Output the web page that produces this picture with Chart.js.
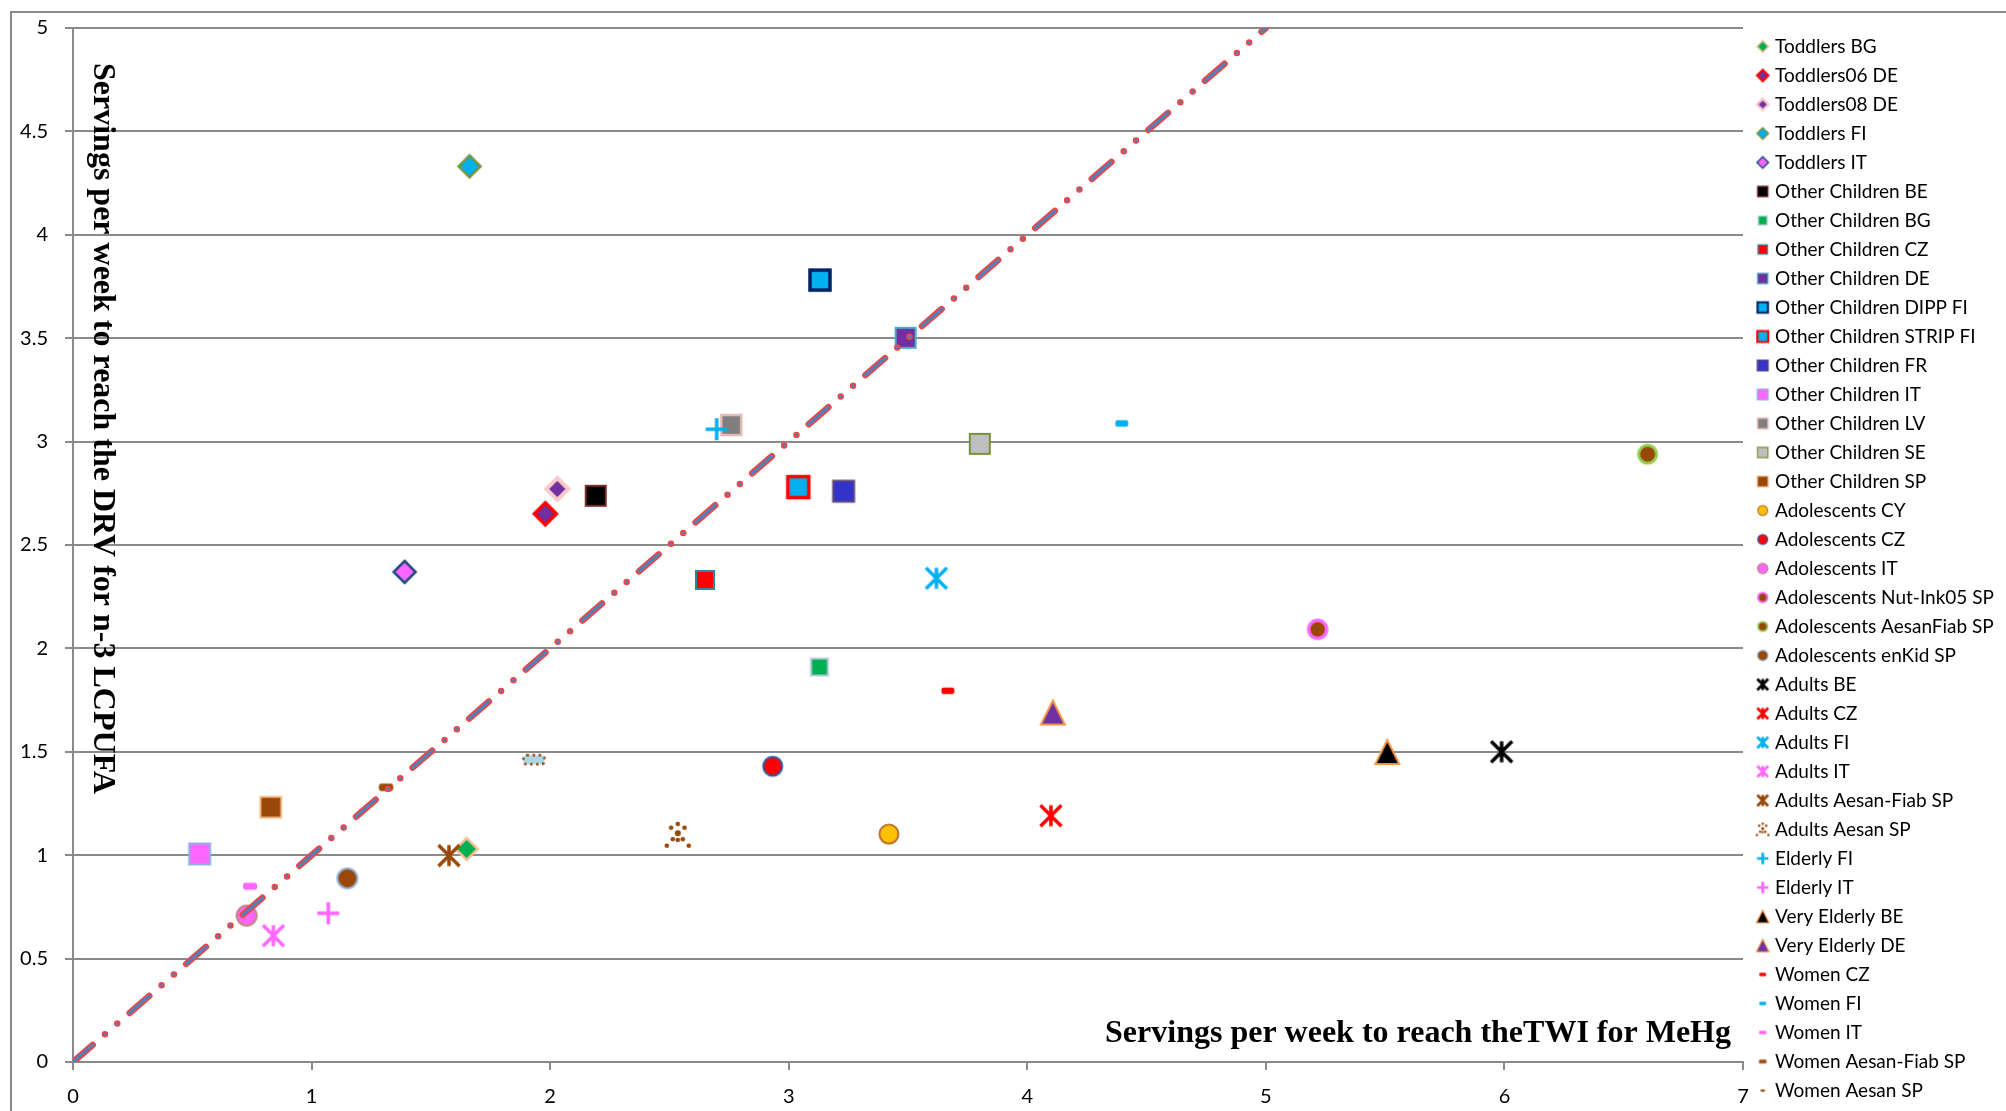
<!DOCTYPE html>
<html>
<head>
<meta charset="utf-8">
<script src="https://cdn.jsdelivr.net/npm/chart.js@4/dist/chart.umd.min.js"></script>
<style>
  html, body { margin: 0; padding: 0; background: #ffffff; }
  canvas { display: block; }
</style>
</head>
<body>
<canvas id="chart" width="2006" height="1111"></canvas>
<script>
// ---- data -------------------------------------------------------------
const seriesNames = [
  'Toddlers BG', 'Toddlers06 DE', 'Toddlers08 DE', 'Toddlers FI', 'Toddlers IT',
  'Other Children BE', 'Other Children BG', 'Other Children CZ', 'Other Children DE',
  'Other Children DIPP FI', 'Other Children STRIP FI', 'Other Children FR',
  'Other Children IT', 'Other Children LV', 'Other Children SE', 'Other Children SP',
  'Adolescents CY', 'Adolescents CZ', 'Adolescents IT', 'Adolescents Nut-Ink05 SP',
  'Adolescents AesanFiab SP', 'Adolescents enKid SP',
  'Adults BE', 'Adults CZ', 'Adults FI', 'Adults IT', 'Adults Aesan-Fiab SP', 'Adults Aesan SP',
  'Elderly FI', 'Elderly IT', 'Very Elderly BE', 'Very Elderly DE',
  'Women CZ', 'Women FI', 'Women IT', 'Women Aesan-Fiab SP', 'Women Aesan SP'
];

// servings per week to reach the TWI for MeHg
const twiServings = [
  1.650, 1.980, 2.030, 1.662, 1.390,
  2.191, 3.129, 2.649, 3.490, 3.131, 3.040, 3.230, 0.531, 2.759, 3.801, 0.829,
  3.420, 2.933, 0.728, 5.217, 6.600, 1.150,
  5.988, 4.099, 3.619, 0.840, 1.576, 2.535,
  2.698, 1.070, 5.509, 4.107,
  3.667, 4.396, 0.742, 1.312, 1.932
];

// servings per week to reach the DRV for n-3 LCPUFA
const drvServings = [
  1.030, 2.651, 2.771, 4.331, 2.370,
  2.738, 1.910, 2.331, 3.502, 3.781, 2.780, 2.760, 1.006, 3.080, 2.989, 1.232,
  1.102, 1.430, 0.708, 2.092, 2.939, 0.888,
  1.500, 1.191, 2.339, 0.611, 0.998, 1.098,
  3.060, 0.719, 1.499, 1.690,
  1.795, 3.088, 0.850, 1.328, 1.462
];

// y = x reference line
const equalityX = [0, 5];
const equalityY = [0, 5];

const xTickValues = [0, 1, 2, 3, 4, 5, 6, 7];
const xTickLabels = ['0', '1', '2', '3', '4', '5', '6', '7'];
const yTickValues = [0, 0.5, 1, 1.5, 2, 2.5, 3, 3.5, 4, 4.5, 5];
const yTickLabels = ['0', '0.5', '1', '1.5', '2', '2.5', '3', '3.5', '4', '4.5', '5'];

const xTitle = 'Servings per week to reach theTWI for MeHg';
const yTitle = 'Servings per week to reach the DRV for n-3 LCPUFA';

// ---- marker styles: [shape, fill, stroke, strokeWidth, size] -------------
const markerStyles = [
  ['diamond', '#00B050', '#FAC090', 2.5, 22],
  ['diamond', '#7030A0', '#FF0000', 3.5, 22],
  ['diamond', '#7030A0', '#F8CBCB', 4, 22],
  ['diamond', '#00B0F0', '#77933C', 2.5, 22],
  ['diamond', '#FF66FF', '#1F497D', 2.5, 22],
  ['square', '#000000', '#772C2A', 2, 20],
  ['square', '#00B050', '#B9C9E2', 2, 17],
  ['square', '#FF0000', '#31859C', 2, 18],
  ['square', '#7030A0', '#4BACC6', 2, 20],
  ['square', '#00B0F0', '#002060', 3.5, 20],
  ['square', '#00B0F0', '#FF0000', 3.5, 21],
  ['square', '#3333CC', '#5F497A', 2, 21],
  ['square', '#FF66FF', '#8EB4E3', 2, 21],
  ['square', '#7F7F7F', '#E6B9B8', 2.5, 20],
  ['square', '#BFBFBF', '#77933C', 2, 20],
  ['square', '#984807', '#FAC090', 2, 21],
  ['circle', '#FFC000', '#B8732E', 2, 19],
  ['circle', '#FF0000', '#2C5DA0', 2, 19],
  ['circle', '#FF66FF', '#C0857E', 2, 20],
  ['circle', '#984807', '#FF66FF', 3.5, 18],
  ['circle', '#984807', '#92D050', 3, 18],
  ['circle', '#984807', '#95B3D7', 2, 20],
  ['star', '#000000', null, 3.5, 21],
  ['star', '#FF0000', null, 3.5, 21],
  ['star', '#00B0F0', null, 3.5, 21],
  ['star', '#FF66FF', null, 3.5, 21],
  ['star', '#984807', null, 3.5, 21],
  ['dots', '#984807', null, 0, 22],
  ['plus', '#00B0F0', null, 3.5, 22],
  ['plus', '#FF66FF', null, 3.5, 22],
  ['triangle', '#000000', '#F79646', 2, 24],
  ['triangle', '#7030A0', '#F79646', 2, 24],
  ['dash', '#FF0000', null, 0, 13],
  ['dash', '#00B0F0', null, 0, 13],
  ['dash', '#FF66FF', null, 0, 14],
  ['dash', '#984807', '#C07040', 1, 14],
  ['dottedBar', '#ADD8E6', '#984807', 2.5, 21]
];
// the legend swatch for the last series is a plain small brown blob
const legendStyleOverrides = { 36: ['dash', '#984807', null, 0, 9] };

// dotted asterisk used for "Adults Aesan SP" (offsets for a 22px marker)
const DOT_PATTERN = [
  [0, -11, 2.3], [-6.7, -7.3, 2.3], [6.7, -7.3, 2.3], [0, -1.7, 3],
  [-5, 4.3, 2.3], [5, 4.3, 2.3], [0, 5, 2.3], [-11, 10.7, 2.3], [11, 10.7, 2.3]
];

const GRID = '#8a8a8a';
const TICK_FONT = { family: 'Lato', size: 20 };
const LEGEND_FONT_SIZE = 19;
const LEGEND_PAD = 10;
const LEGEND_BOX = 12.5;
const LEGEND_WIDTH = 263;
const LEGEND_SWATCH_SHIFT = 3.75;

function paintMarker(g, spec, cx, cy, k, lwScale) {
  const [kind, fill, stroke, lw0, s0] = spec;
  const s = s0 * k, h = s / 2, lw = lw0 * lwScale;
  g.lineJoin = 'miter';
  if (kind === 'star' || kind === 'plus') {
    g.strokeStyle = fill;
    g.lineWidth = lw;
    g.lineCap = 'butt';
    g.beginPath();
    if (kind === 'star') {
      g.moveTo(cx - h, cy - h); g.lineTo(cx + h, cy + h);
      g.moveTo(cx + h, cy - h); g.lineTo(cx - h, cy + h);
    } else {
      g.moveTo(cx - h, cy); g.lineTo(cx + h, cy);
    }
    g.moveTo(cx, cy - h); g.lineTo(cx, cy + h);
    g.stroke();
    return;
  }
  if (kind === 'dots') {
    g.fillStyle = fill;
    const f = s / 22;
    for (const [dx, dy, r] of DOT_PATTERN) {
      g.beginPath();
      g.arc(cx + dx * f, cy + dy * f, Math.max(0.9, r * f), 0, Math.PI * 2);
      g.fill();
    }
    return;
  }
  g.beginPath();
  switch (kind) {
    case 'diamond':
      g.moveTo(cx, cy - h); g.lineTo(cx + h, cy); g.lineTo(cx, cy + h); g.lineTo(cx - h, cy);
      g.closePath();
      break;
    case 'square':
      g.rect(cx - h, cy - h, s, s);
      break;
    case 'circle':
      g.arc(cx, cy, h, 0, Math.PI * 2);
      break;
    case 'triangle':
      g.moveTo(cx, cy - h); g.lineTo(cx + h, cy + h); g.lineTo(cx - h, cy + h);
      g.closePath();
      break;
    case 'dash':
      g.roundRect(cx - h, cy - s * 0.25, s, s * 0.5, s * 0.18);
      break;
    case 'dottedBar':
      g.roundRect(cx - h, cy - s * 0.22, s, s * 0.44, s * 0.15);
      break;
  }
  g.fillStyle = fill;
  g.fill();
  if (stroke && lw > 0) {
    g.strokeStyle = stroke;
    g.lineWidth = lw;
    if (kind === 'dottedBar') g.setLineDash([lw, lw * 1.4]);
    g.stroke();
  }
}

function markerCanvas(spec, k, lwScale, shift) {
  const s = spec[4] * k;
  const box = 2 * Math.ceil((s + 10) / 2);
  const c = document.createElement('canvas');
  c.width = Math.round(box + 2 * shift);
  c.height = box;
  paintMarker(c.getContext('2d'), spec, box / 2 + 2 * shift, box / 2, k, lwScale);
  return c;
}

const plotMarkers = markerStyles.map(st => markerCanvas(st, 1, 1, 0));
const legendMarkers = markerStyles.map((st, i) => {
  const spec = legendStyleOverrides[i] || st;
  const stroked = spec[0] === 'star' || spec[0] === 'plus';
  return markerCanvas(spec, spec === st ? 0.52 : 0.5, stroked ? 0.78 : 0.6, LEGEND_SWATCH_SHIFT);
});

// keep the legend exactly LEGEND_WIDTH wide so the plot ends where it should
const measure = document.createElement('canvas').getContext('2d');
measure.font = LEGEND_FONT_SIZE + 'px Lato';
const longestLabel = Math.max(...seriesNames.map(t => measure.measureText(t).width));
const naturalLegend = LEGEND_PAD + LEGEND_BOX + LEGEND_FONT_SIZE / 2 + longestLabel + 10;
const rightPadding = Math.max(0, LEGEND_WIDTH - naturalLegend);

// ---- datasets ---------------------------------------------------------------
const equalityPoints = equalityX.map((x, i) => ({ x, y: equalityY[i] }));
const lineDash = [26, 16.3, 0, 16.3, 0, 16.3];

const datasets = [
  {
    label: 'y = x',
    data: equalityPoints,
    showLine: true,
    borderColor: '#4F81BD',
    borderWidth: 3,
    borderDash: lineDash,
    borderCapStyle: 'round',
    pointRadius: 0,
    fill: false,
    order: 0
  },
  {
    label: 'y = x (outline)',
    data: equalityPoints,
    showLine: true,
    borderColor: '#EE4646',
    borderWidth: 6.5,
    borderDash: lineDash,
    borderCapStyle: 'round',
    pointRadius: 0,
    fill: false,
    order: 1
  }
].concat(seriesNames.map((name, i) => ({
  label: name,
  data: [{ x: twiServings[i], y: drvServings[i] }],
  pointStyle: plotMarkers[i],
  pointRadius: 11,
  pointHoverRadius: 11,
  showLine: false,
  order: 100 - i
})));

// ---- plugins ------------------------------------------------------------------
const pageFrame = {
  id: 'pageFrame',
  beforeDraw(chart) {
    const ctx = chart.ctx;
    ctx.save();
    ctx.fillStyle = '#ffffff';
    ctx.fillRect(0, 0, chart.width, chart.height);
    ctx.strokeStyle = GRID;
    ctx.lineWidth = 2;
    ctx.beginPath();
    ctx.moveTo(11, chart.height);
    ctx.lineTo(11, 12);
    ctx.lineTo(chart.width, 12);
    ctx.stroke();
    ctx.restore();
  }
};

const innerAxisTitles = {
  id: 'innerAxisTitles',
  beforeDatasetsDraw(chart) {
    const { ctx, chartArea: a } = chart;
    ctx.save();
    ctx.fillStyle = '#000000';
    ctx.font = 'bold 32px "Liberation Serif"';
    ctx.textBaseline = 'alphabetic';
    ctx.textAlign = 'right';
    ctx.fillText(xTitle, a.right - 12, a.bottom - 20);
    ctx.translate(a.left + 21, a.top + 35);
    ctx.rotate(Math.PI / 2);
    ctx.textAlign = 'left';
    ctx.fillText(yTitle, 0, 0);
    ctx.restore();
  }
};

Chart.defaults.font.family = 'Lato';
Chart.defaults.color = '#000000';

new Chart(document.getElementById('chart'), {
  type: 'scatter',
  data: { datasets },
  plugins: [pageFrame, innerAxisTitles],
  options: {
    responsive: false,
    animation: false,
    devicePixelRatio: 1,
    layout: { padding: { top: 27, left: 0, right: rightPadding, bottom: 0 } },
    plugins: {
      tooltip: { enabled: false },
      legend: {
        position: 'right',
        align: 'start',
        maxWidth: LEGEND_WIDTH,
        labels: {
          usePointStyle: true,
          boxWidth: LEGEND_BOX,
          boxHeight: LEGEND_BOX,
          padding: LEGEND_PAD,
          color: '#000000',
          font: { family: 'Lato', size: LEGEND_FONT_SIZE },
          generateLabels: () => seriesNames.map((name, i) => ({
            text: name,
            pointStyle: legendMarkers[i],
            fillStyle: 'rgba(0,0,0,0)',
            strokeStyle: 'rgba(0,0,0,0)',
            lineWidth: 0,
            hidden: false,
            datasetIndex: i + 2
          }))
        }
      }
    },
    scales: {
      x: {
        type: 'linear',
        min: 0,
        max: 7,
        afterBuildTicks: s => { s.ticks = xTickValues.map(v => ({ value: v })); },
        afterFit: s => { s.height = 49; },
        grid: { drawOnChartArea: false, drawTicks: true, tickLength: 8, color: GRID, lineWidth: 2 },
        border: { display: true, color: GRID, width: 2 },
        ticks: {
          padding: 15,
          maxRotation: 0,
          font: TICK_FONT,
          color: '#000000',
          callback: (v, i) => xTickLabels[i]
        }
      },
      y: {
        type: 'linear',
        min: 0,
        max: 5,
        afterBuildTicks: s => { s.ticks = yTickValues.map(v => ({ value: v })); },
        afterFit: s => { s.width = 73; s.paddingTop = 28; },
        grid: { drawOnChartArea: true, drawTicks: true, tickLength: 8, color: GRID, lineWidth: 2 },
        border: { display: true, color: GRID, width: 2 },
        ticks: {
          padding: 17,
          font: TICK_FONT,
          color: '#000000',
          callback: (v, i) => yTickLabels[i]
        }
      }
    }
  }
});
</script>
</body>
</html>
